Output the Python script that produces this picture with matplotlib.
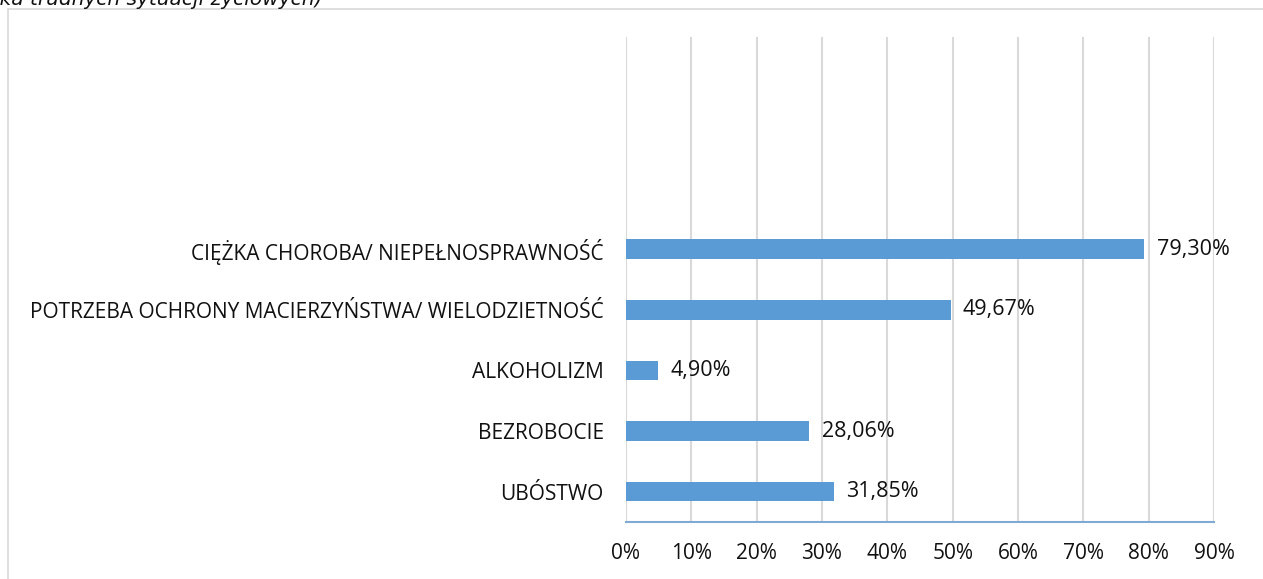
import matplotlib.pyplot as plt
from matplotlib.patches import Rectangle
from matplotlib.ticker import FuncFormatter

# --- Data ---
categories = ['UBÓSTWO', 'BEZROBOCIE', 'ALKOHOLIZM',
              'POTRZEBA OCHRONY MACIERZYŃSTWA/ WIELODZIETNOŚĆ',
              'CIĘŻKA CHOROBA/ NIEPEŁNOSPRAWNOŚĆ']
values = [31.85, 28.06, 4.90, 49.67, 79.30]
x_ticks = [0, 10, 20, 30, 40, 50, 60, 70, 80, 90]

bar_color = '#5B9BD5'
grid_color = '#D9D9D9'
text_color = '#111111'
font = ['Open Sans', 'DejaVu Sans']
fs = 15

fig = plt.figure(figsize=(12.63, 5.79), dpi=100)
W, H = 1263, 579

# chart border (light grey frame)
fig.patches.append(Rectangle((8 / W, -0.05), 1.1, 1 - 9 / H + 0.05,
                             transform=fig.transFigure, fill=False,
                             edgecolor=grid_color, linewidth=1.2))

# cut-off caption at the very top
fig.text(-0.005, 1 - 5 / H, 'ika trudnych sytuacji życiowych)', ha='left', va='baseline',
         fontsize=14.5, style='italic', family=['DejaVu Sans'], color=text_color)

ax = fig.add_axes([626 / W, 57 / H, (1214 - 626) / W, (522 - 37) / H])

ypos = list(range(len(categories)))
ax.barh(ypos, values, height=0.32, color=bar_color, zorder=3)

for y, v in zip(ypos, values):
    ax.text(v + 1.9, y, f'{v:.2f}%'.replace('.', ','), va='center', ha='left',
            fontsize=15.5, family=font, color=text_color)

ax.set_xlim(0, 90)
ax.set_ylim(-0.5, 7.5)
ax.set_xticks(x_ticks)
ax.xaxis.set_major_formatter(FuncFormatter(lambda v, p: f'{v:.0f}%'))
ax.set_yticks(ypos)
ax.set_yticklabels(categories)

for lab in ax.get_xticklabels() + ax.get_yticklabels():
    lab.set_family(font)
    lab.set_fontsize(fs)
    lab.set_color(text_color)

ax.tick_params(axis='x', length=0, pad=15)
ax.tick_params(axis='y', length=0, pad=16)

ax.grid(axis='x', color=grid_color, linewidth=1.5, zorder=0)
for s in ['top', 'right', 'left']:
    ax.spines[s].set_visible(False)
ax.spines['bottom'].set_color('#7FAAD3')
ax.spines['bottom'].set_linewidth(1.5)
ax.spines['bottom'].set_zorder(4)

fig.savefig('out.png', dpi=100)
